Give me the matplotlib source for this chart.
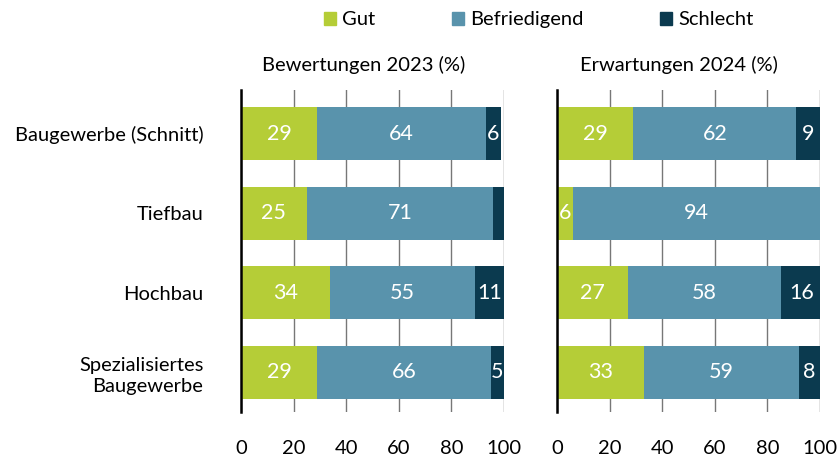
import matplotlib.pyplot as plt
from matplotlib.patches import Patch
import numpy as np

plt.rcParams['font.family'] = ['Lato', 'DejaVu Sans']

categories = ["Baugewerbe (Schnitt)", "Tiefbau", "Hochbau", "Spezialisiertes\nBaugewerbe"]
series = ["Gut", "Befriedigend", "Schlecht"]
colors = ["#b5cd37", "#5993ac", "#0b3a4f"]

# werte 2023 / 2024 (%)
gut_2023 = [29, 25, 34, 29]
befr_2023 = [64, 71, 55, 66]
schl_2023 = [6, 4, 11, 5]
gut_2024 = [29, 6, 27, 33]
befr_2024 = [62, 94, 58, 59]
schl_2024 = [9, 0, 16, 8]

titles = ["Bewertungen 2023 (%)", "Erwartungen 2024 (%)"]
panels = [(gut_2023, befr_2023, schl_2023), (gut_2024, befr_2024, schl_2024)]

fig = plt.figure(figsize=(8.4, 4.61), dpi=100)
ax1 = fig.add_axes([241/840, 1-412/461, 263/840, 322/461])
ax2 = fig.add_axes([557/840, 1-412/461, 263/840, 322/461])

y = np.arange(len(categories))
for ax, data, title in zip([ax1, ax2], panels, titles):
    left = np.zeros(len(categories))
    for vals, col in zip(data, colors):
        vals = np.array(vals, dtype=float)
        bars = ax.barh(y, vals, left=left, height=0.67, color=col, zorder=2)
        for b, v in zip(bars, vals):
            if v >= 5:
                ax.text(b.get_x() + b.get_width()/2, b.get_y() + b.get_height()/2,
                        f"{int(v)}", ha="center", va="center", color="white",
                        fontsize=15.5, zorder=3)
        left += vals
    ax.set_xlim(0, 100)
    ax.set_ylim(len(categories) - 0.5, -0.55)
    ax.set_xticks([0, 20, 40, 60, 80, 100])
    ax.xaxis.grid(True, color="#777777", linewidth=1, zorder=0)
    ax.tick_params(axis="x", length=0, pad=20, labelsize=14.5)
    ax.tick_params(axis="y", length=0)
    for s in ["top", "right", "bottom"]:
        ax.spines[s].set_visible(False)
    ax.spines["left"].set_linewidth(1.8)
    ax.spines["left"].set_color("black")
    ax.set_title(title, fontsize=14.5, pad=14, x=0.465)

ax1.set_yticks(y)
ax1.set_yticklabels(categories, fontsize=14.5, linespacing=1.3)
ax1.tick_params(axis="y", pad=27)
ax2.set_yticks([])

handles = [Patch(color=c, label=s) for s, c in zip(series, colors)]
fig.legend(handles=handles, loc="upper left", bbox_to_anchor=(306/840, 1.015), ncol=3,
           frameon=False, fontsize=14.5, handlelength=0.6, handleheight=0.6,
           handletextpad=0.3, columnspacing=3.8)

fig.savefig("out.png", dpi=100)
